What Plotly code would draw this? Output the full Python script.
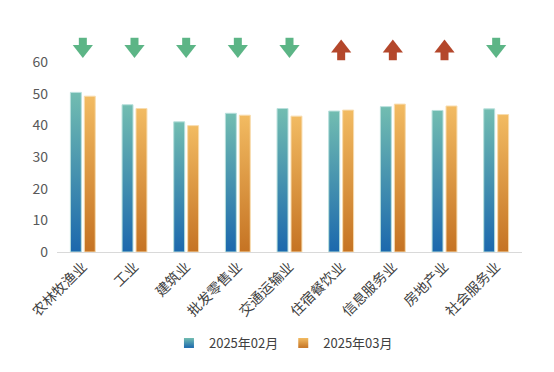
import plotly.graph_objects as go

categories = ["农林牧渔业", "工业", "建筑业", "批发零售业", "交通运输业", "住宿餐饮业", "信息服务业", "房地产业", "社会服务业"]
feb_values = [50.4, 46.5, 41.1, 43.8, 45.3, 44.5, 45.9, 44.7, 45.2]
mar_values = [49.2, 45.3, 39.9, 43.2, 42.9, 44.8, 46.7, 46.1, 43.4]
series_names = ["2025年02月", "2025年03月"]
y_ticks = [0, 10, 20, 30, 40, 50, 60]

FONT = "Noto Sans CJK SC, Microsoft YaHei, sans-serif"
TEXT = "#595959"
BAR_W = 0.212
OFFSET = 0.135
series = [
    dict(name=series_names[0], values=feb_values, off=-OFFSET,
         bottom="#1b68ad", top="#72bdb1", edge="#b8e0dc"),
    dict(name=series_names[1], values=mar_values, off=OFFSET,
         bottom="#c57323", top="#f2bb62", edge="#f8dcae"),
]

fig = go.Figure()

for s in series:
    for i, v in enumerate(s["values"]):
        xc = i + s["off"]
        x0, x1 = xc - BAR_W / 2, xc + BAR_W / 2
        fig.add_trace(go.Scatter(
            x=[x0, x1, x1, x0, x0], y=[0, 0, v, v, 0],
            mode="lines", fill="toself",
            line=dict(color=s["edge"], width=1),
            fillgradient=dict(type="vertical", start=0, stop=v,
                              colorscale=[[0, s["bottom"]], [1, s["top"]]]),
            showlegend=False, hoverinfo="skip", name=s["name"],
        ))
    # legend entry
    fig.add_trace(go.Scatter(
        x=[None], y=[None], mode="markers", name=s["name"],
        marker=dict(symbol="square", size=10, color=s["top"],
                    gradient=dict(type="vertical", color=s["bottom"]),
                    line=dict(width=0)),
    ))

# trend arrows (direction from data)
down_x, up_x = [], []
for i, (a, b) in enumerate(zip(feb_values, mar_values)):
    (down_x if b < a else up_x).append(i)

GREEN = "#5cb586"
RED = "#b4472b"
fig.add_trace(go.Scatter(x=down_x, y=[66.1] * len(down_x), mode="markers",
                         marker=dict(symbol="line-ns", size=7, line=dict(color=GREEN, width=8)),
                         showlegend=False, hoverinfo="skip"))
fig.add_trace(go.Scatter(x=down_x, y=[64.0] * len(down_x), mode="markers",
                         marker=dict(symbol="triangle-down", size=17.5, color=GREEN, line=dict(width=0)),
                         showlegend=False, hoverinfo="skip"))
fig.add_trace(go.Scatter(x=up_x, y=[62.1] * len(up_x), mode="markers",
                         marker=dict(symbol="line-ns", size=7, line=dict(color=RED, width=8)),
                         showlegend=False, hoverinfo="skip"))
fig.add_trace(go.Scatter(x=up_x, y=[64.35] * len(up_x), mode="markers",
                         marker=dict(symbol="triangle-up", size=17.5, color=RED, line=dict(width=0)),
                         showlegend=False, hoverinfo="skip"))

fig.update_layout(
    width=554, height=372,
    margin=dict(l=57, r=32, t=30, b=120, autoexpand=False),
    paper_bgcolor="white", plot_bgcolor="white",
    font=dict(family=FONT, color=TEXT, size=14),
    showlegend=True,
    legend=dict(orientation="h", x=0.487, xanchor="center", y=-0.41, yanchor="middle",
                font=dict(size=13, color="#404040"), itemwidth=30,
                traceorder="normal"),
    xaxis=dict(range=[-0.5, len(categories) - 0.5], tickmode="array",
               tickvals=list(range(len(categories))), ticktext=categories,
               tickangle=-45, showgrid=False, zeroline=False, automargin=False,
               showline=True, linecolor="#d9d9d9", linewidth=1,
               ticks="", tickfont=dict(size=14, color="#404040"), fixedrange=True),
    yaxis=dict(range=[0, 70.1], tickvals=y_ticks, showgrid=False, zeroline=False,
               showline=False, ticks="", tickfont=dict(size=14, color=TEXT),
               automargin=False, ticklabelstandoff=8, fixedrange=True),
)

fig.write_html("out.html", post_script="document.body.style.margin='0px';",
               config={"displayModeBar": False})
